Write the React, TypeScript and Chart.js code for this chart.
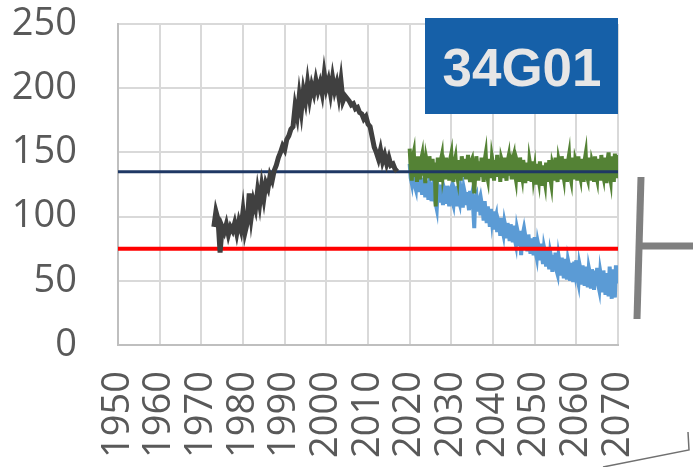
import React, { useEffect, useRef } from "react";
import { Chart, registerables } from "chart.js";

Chart.register(...registerables);

// ---- data ----
const xTickYears = [1950, 1960, 1970, 1980, 1990, 2000, 2010, 2020, 2030, 2040, 2050, 2060, 2070];
const yTickValues = [0, 50, 100, 150, 200, 250];

const obsStartYear = 1973;
const obsStepYears = 0.5;
const projStartYear = 2020;
const projStepYears = 0.25;

// observed (black), 1973.0 .. 2017.0 every half year
const obsValues = [
  92, 104, 98, 72, 92, 88, 94, 86, 92, 89,
  95, 87, 96, 90, 104, 88, 95, 118, 100, 112,
  106, 120, 110, 124, 114, 126, 122, 132, 128, 136,
  140, 146, 150, 155, 152, 160, 163, 168, 170, 186,
  178, 194, 182, 198, 190, 204, 192, 202, 196, 206,
  198, 204, 196, 211, 200, 206, 196, 208, 198, 204,
  194, 206, 190, 194, 192, 190, 187, 188, 184, 185,
  181, 180, 176, 178, 172, 170, 162, 154, 150, 145,
  152, 143, 148, 141, 146, 140, 141, 137, 135,
];

// projection, stable scenario (green), 2020.00 .. 2070.00 every quarter year
const greenValues = [
  153, 138, 128, 146, 150, 131, 140, 127, 147, 135, 129, 144, 148, 132, 138, 126, 145, 141, 130, 147,
  136, 128, 145, 133, 142, 108, 131, 146, 139, 127, 144, 148, 132, 137, 129, 146, 134, 141, 128, 145,
  149, 133, 127, 142, 146, 135, 130, 144, 137, 128, 147, 140, 131, 145, 129, 138, 148, 133, 127, 143,
  145, 136, 118, 134, 147, 139, 128, 143, 131, 146, 137, 127, 144, 149, 133, 129, 145, 138, 130, 146,
  141, 128, 144, 135, 148, 131, 139, 127, 145, 142, 130, 146, 134, 128, 143, 147, 132, 138, 129, 145,
  148, 134, 129, 143, 140, 127, 146, 136, 131, 144, 138, 126, 142, 135, 128, 144, 139, 127, 143, 131,
  137, 125, 141, 133, 128, 143, 135, 124, 140, 131, 126, 142, 136, 127, 144, 130, 125, 141, 138, 128,
  146, 133, 127, 144, 140, 129, 147, 135, 130, 145, 138, 127, 143, 148, 132, 128, 146, 136, 129, 144,
  141, 128, 147, 134, 130, 145, 138, 127, 144, 149, 132, 129, 146, 137, 128, 143, 140, 127, 147, 133,
  129, 145, 139, 128, 148, 135, 131, 146, 137, 126, 144, 150, 133, 128, 147, 138, 127, 149, 136, 130,
  148,
];

// projection, declining scenario (blue), 2020.00 .. 2070.00 every quarter year
const blueValues = [
  141, 130, 126, 137, 133, 124, 121, 135, 129, 119, 132, 126, 117, 130, 124, 115, 128, 122, 113, 127,
  124, 112, 120, 126, 115, 110, 106, 123, 118, 111, 125, 116, 109, 122, 119, 110, 124, 114, 108, 121,
  123, 112, 109, 120, 117, 108, 124, 113, 110, 121, 115, 107, 122, 118, 109, 119, 112, 105, 120, 114,
  118, 106, 91, 115, 117, 104, 110, 113, 101, 111, 106, 97, 112, 103, 95, 108, 100, 92, 106, 97,
  104, 90, 98, 101, 88, 97, 94, 85, 99, 90, 86, 96, 92, 83, 95, 88, 81, 94, 86, 80,
  93, 82, 78, 91, 87, 77, 89, 70, 84, 88, 75, 85, 80, 73, 86, 78, 71, 83, 76, 70,
  84, 72, 68, 80, 76, 66, 79, 70, 63, 76, 72, 61, 74, 66, 59, 72, 68, 57, 70, 62,
  72, 58, 55, 69, 64, 54, 68, 60, 52, 67, 57, 51, 66, 62, 50, 64, 56, 49, 65, 58,
  66, 52, 48, 63, 59, 47, 62, 55, 46, 61, 53, 45, 60, 56, 44, 59, 51, 43, 58, 50,
  60, 47, 43, 57, 52, 41, 58, 49, 39, 56, 45, 38, 61, 50, 36, 59, 44, 37, 62, 48,
  55,
];

const navyLevel = 135;
const redLevel = 75;
const stationLabel = "34G01";

// ---- helpers ----
const toPoints = (start: number, step: number, values: number[]) =>
  values.map((v, i) => ({ x: start + i * step, y: v }));

const levelLine = (level: number) => [
  { x: xTickYears[0], y: level },
  { x: xTickYears[xTickYears.length - 1], y: level },
];

const TICK_FONT = { family: "'Open Sans', 'Noto Sans', sans-serif", size: 38 };

const decorPlugin = {
  id: "decor",
  afterDraw(chart: any) {
    const ctx = chart.ctx as CanvasRenderingContext2D;
    const area = chart.chartArea;
    ctx.save();
    // station label box
    ctx.fillStyle = "#1660a8";
    ctx.fillRect(425, 18, area.right - 425, 96);
    ctx.fillStyle = "#e7e6e6";
    ctx.font = "bold 53px 'Liberation Sans', Arial, sans-serif";
    ctx.textAlign = "center";
    ctx.textBaseline = "alphabetic";
    ctx.fillText(stationLabel, 522, 86);
    // grey bracket on the right
    ctx.strokeStyle = "#808080";
    ctx.lineWidth = 7;
    ctx.lineCap = "butt";
    ctx.beginPath();
    ctx.moveTo(641, 177);
    ctx.lineTo(637, 319);
    ctx.stroke();
    ctx.beginPath();
    ctx.moveTo(639, 246);
    ctx.lineTo(693, 246);
    ctx.stroke();
    // partial leader line bottom-right
    ctx.strokeStyle = "#707070";
    ctx.lineWidth = 1.5;
    ctx.beginPath();
    ctx.moveTo(603, 467);
    ctx.lineTo(689, 450);
    ctx.lineTo(688, 432);
    ctx.stroke();
    ctx.restore();
  },
};

export default function App() {
  const canvasRef = useRef<HTMLCanvasElement | null>(null);

  useEffect(() => {
    if (!canvasRef.current) return;
    const chart = new Chart(canvasRef.current, {
      type: "line",
      data: {
        datasets: [
          {
            label: "observed",
            data: toPoints(obsStartYear, obsStepYears, obsValues),
            borderColor: "#404040",
            borderWidth: 5,
            pointRadius: 0,
            tension: 0,
            order: 0,
          },
          {
            label: "upper",
            data: levelLine(navyLevel),
            borderColor: "#1f3864",
            borderWidth: 3,
            pointRadius: 0,
            order: 1,
          },
          {
            label: "lower",
            data: levelLine(redLevel),
            borderColor: "#ff0000",
            borderWidth: 4,
            pointRadius: 0,
            order: 2,
          },
          {
            label: "stable",
            data: toPoints(projStartYear, projStepYears, greenValues),
            borderColor: "#548235",
            borderWidth: 4,
            pointRadius: 0,
            tension: 0,
            order: 3,
          },
          {
            label: "declining",
            data: toPoints(projStartYear, projStepYears, blueValues),
            borderColor: "#5b9bd5",
            borderWidth: 4,
            pointRadius: 0,
            tension: 0,
            order: 4,
          },
        ],
      },
      options: {
        animation: false,
        responsive: false,
        devicePixelRatio: 1,
        layout: { padding: { top: 24, right: 75, left: 0, bottom: 0 } },
        plugins: {
          legend: { display: false },
          tooltip: { enabled: false },
          title: { display: false },
        },
        scales: {
          x: {
            type: "linear",
            min: xTickYears[0],
            max: xTickYears[xTickYears.length - 1],
            afterBuildTicks: (s: any) => {
              s.ticks = xTickYears.map((v) => ({ value: v }));
            },
            afterFit: (s: any) => {
              s.height = 122;
              s.paddingLeft = 0;
              s.paddingRight = 0;
              s.paddingTop = 0;
              s.paddingBottom = 0;
            },
            grid: { color: "#d9d9d9", lineWidth: 2, drawTicks: false },
            border: { color: "#bfbfbf", width: 2 },
            ticks: {
              autoSkip: false,
              minRotation: 90,
              maxRotation: 90,
              padding: 26,
              color: "#595959",
              font: TICK_FONT,
              callback: (v: any) => String(v),
            },
          },
          y: {
            type: "linear",
            min: yTickValues[0],
            max: yTickValues[yTickValues.length - 1],
            afterBuildTicks: (s: any) => {
              s.ticks = yTickValues.map((v) => ({ value: v }));
            },
            afterFit: (s: any) => {
              s.width = 118;
              s.paddingLeft = 0;
              s.paddingRight = 0;
              s.paddingTop = 0;
              s.paddingBottom = 0;
            },
            grid: { color: "#d9d9d9", lineWidth: 2, drawTicks: false },
            border: { color: "#bfbfbf", width: 2 },
            ticks: {
              padding: 41,
              color: "#595959",
              font: TICK_FONT,
              callback: (v: any) => String(v),
            },
          },
        },
      },
      plugins: [decorPlugin],
    } as any);
    return () => chart.destroy();
  }, []);

  return (
    <div style={{ position: "fixed", left: 0, top: 0, width: 693, height: 467, background: "#ffffff" }}>
      <canvas ref={canvasRef} width={693} height={467} style={{ width: 693, height: 467 }} />
    </div>
  );
}
